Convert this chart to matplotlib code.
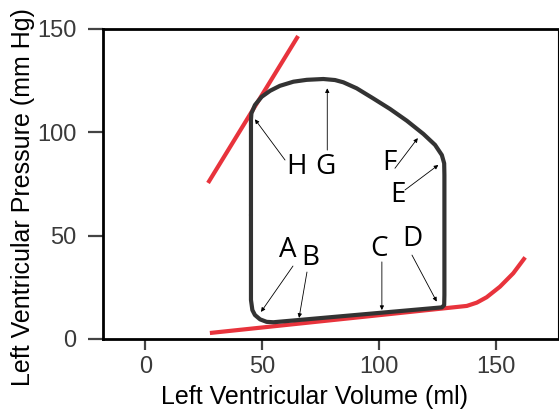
import matplotlib.pyplot as plt

# pressure-volume loop (ml, mm Hg)
loop_vol = [45.2, 45.2, 45.8, 46.9, 49.1, 51.9, 54.8, 127.0, 128.0, 128.1, 128.1, 128.0,
            127.0, 124.1, 119.1, 112.0, 104.8, 97.6, 90.5, 84.8, 81.2, 76.2,
            69.1, 63.4, 57.6, 53.4, 49.8, 46.9, 45.4, 45.2, 45.2]
loop_pres = [60.0, 18.9, 14.0, 11.6, 9.5, 8.3, 8.1, 15.3, 16.4, 21.3, 79.3, 85.0,
             89.0, 93.9, 99.2, 105.6, 111.3, 116.4, 121.3, 124.2, 125.3, 125.8,
             125.4, 124.5, 122.5, 120.1, 117.2, 113.2, 109.2, 106.0, 60.0]

# end-systolic pressure-volume relation
espvr_vol = [26.8, 65.4]
espvr_pres = [75.5, 146.6]

# end-diastolic pressure-volume relation
edpvr_vol = [27.6, 137.7, 142.0, 146.2, 151.9, 157.6, 162.7]
edpvr_pres = [2.9, 16.0, 17.6, 20.2, 25.3, 31.8, 39.5]

letters = ['A', 'B', 'C', 'D', 'E', 'F', 'G', 'H']
letter_x = [61.1, 70.5, 100.0, 114.2, 108.2, 104.6, 76.9, 64.8]
letter_y = [43.3, 39.2, 43.6, 48.2, 69.5, 85.0, 83.4, 83.4]
arrow_tail = [(63.2, 35.3), (69.2, 32.4), (101.3, 37.3), (114.2, 40.6),
              (111.2, 72.1), (106.9, 82.6), (77.9, 91.4), (59.8, 86.6)]
arrow_head = [(49.5, 13.1), (65.8, 10.2), (101.3, 14.0), (124.8, 18.1),
              (125.5, 84.2), (116.7, 97.2), (77.9, 121.3), (46.9, 106.3)]

fig = plt.figure(figsize=(5.59, 4.13), dpi=100)
ax = fig.add_axes([0.1843, 0.1792, 0.8140, 0.7506])

ax.plot(espvr_vol, espvr_pres, color='#e8333c', lw=3, solid_capstyle='butt', zorder=2)
ax.plot(edpvr_vol, edpvr_pres, color='#e8333c', lw=3, solid_capstyle='butt',
        solid_joinstyle='round', zorder=2)
ax.plot(loop_vol, loop_pres, color='#333333', lw=3, solid_joinstyle='round',
        solid_capstyle='round', zorder=3)

for lab, x, y in zip(letters, letter_x, letter_y):
    ax.text(x, y, lab, fontsize=20, family='Open Sans', ha='center', va='center', color='k')
for tail, head in zip(arrow_tail, arrow_head):
    ax.annotate('', xy=head, xytext=tail,
                arrowprops=dict(arrowstyle='-|>', lw=0.6, color='k', mutation_scale=6,
                                shrinkA=0, shrinkB=0))

ax.set_xlim(-18.2, 176.8)
ax.set_ylim(0, 150)
ax.set_xticks([0, 50, 100, 150])
ax.set_yticks([0, 50, 100, 150])

for s in ['left', 'top', 'bottom']:
    ax.spines[s].set_linewidth(2)
ax.spines['right'].set_linewidth(0.8)

ax.tick_params(axis='x', length=8, width=1.6, color='#444444', labelcolor='#3a3a3a',
               labelsize=17, pad=4)
ax.tick_params(axis='y', length=11, width=1.6, color='#444444', labelcolor='#3a3a3a',
               labelsize=17, pad=8)
for t in ax.get_xticklabels() + ax.get_yticklabels():
    t.set_family('Liberation Sans')

ax.set_xlabel('Left Ventricular Volume (ml)', fontsize=18, family='Liberation Sans')
ax.set_ylabel('Left Ventricular Pressure (mm Hg)', fontsize=18, family='Liberation Sans')
ax.xaxis.set_label_coords(0.464, -0.150)
ax.yaxis.set_label_coords(-0.15, 0.458)

fig.savefig('out.png', dpi=100)
